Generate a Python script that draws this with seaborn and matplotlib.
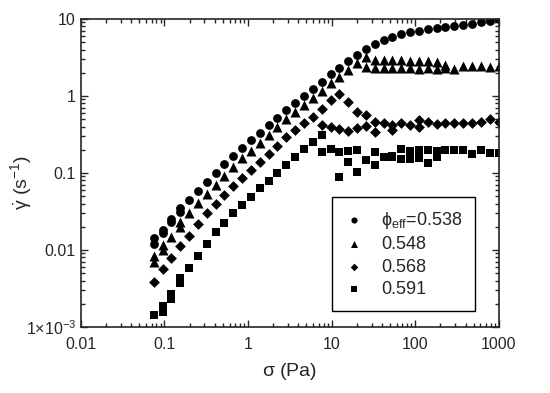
import seaborn as sns
import matplotlib.pyplot as plt
import pandas as pd

# shear stress (Pa), one sweep shared by all samples
stress = [0.074, 0.095, 0.121, 0.154, 0.196, 0.251, 0.320, 0.408, 0.521, 0.665,
          0.848, 1.08, 1.38, 1.76, 2.25, 2.86, 3.66, 4.66, 5.96, 7.59,
          9.70, 12.4, 15.8, 20.1, 25.7, 32.8, 41.9, 53.4, 68.2, 86.9,
          111, 142, 181, 230, 294, 375, 480, 611, 780, 995]

# shear rate (1/s) for each phi_eff
rate_538 = [0.0144, 0.0182, 0.0253, 0.0346, 0.0440, 0.0583, 0.0771, 0.101, 0.131, 0.166,
            0.211, 0.266, 0.331, 0.414, 0.523, 0.658, 0.818, 1.00, 1.23, 1.53,
            1.93, 2.33, 2.87, 3.44, 4.11, 4.73, 5.34, 5.89, 6.39, 6.78,
            7.05, 7.35, 7.57, 7.80, 8.11, 8.36, 8.61, 9.06, 9.42, 9.91]
rate_548 = [0.00836, 0.0116, 0.0147, 0.0231, 0.0300, 0.0411, 0.0533, 0.0698, 0.0923, 0.121,
            0.155, 0.193, 0.248, 0.312, 0.392, 0.498, 0.625, 0.764, 0.950, 1.17,
            1.46, 1.78, 2.18, 2.66, 3.18, 2.94, 2.94, 2.90, 2.90, 2.85,
            2.85, 2.80, 2.75, 2.55, 2.22, 2.45, 2.45, 2.42, 2.40, 2.45]
rate_568 = [0.00388, 0.00563, 0.00787, 0.0113, 0.0152, 0.0220, 0.0300, 0.0394, 0.0518, 0.0672,
            0.0861, 0.109, 0.139, 0.178, 0.224, 0.291, 0.362, 0.442, 0.539, 0.678,
            0.875, 1.06, 0.823, 0.62, 0.566, 0.46, 0.44, 0.42, 0.45, 0.42,
            0.488, 0.46, 0.43, 0.44, 0.45, 0.45, 0.45, 0.46, 0.50, 0.46]
rate_591 = [0.00141, 0.00187, 0.00268, 0.00433, 0.00578, 0.00836, 0.0119, 0.0169, 0.0226, 0.0300,
            0.0384, 0.0492, 0.0633, 0.0794, 0.100, 0.126, 0.159, 0.205, 0.251, 0.309,
            0.202, 0.185, 0.19, 0.199, 0.149, 0.186, 0.159, 0.165, 0.202, 0.19,
            0.20, 0.199, 0.19, 0.199, 0.197, 0.197, 0.177, 0.197, 0.184, 0.179]

# repeated measurements at some stresses
rep_538_x = [0.074, 0.095, 0.121, 0.154]
rep_538_y = [0.0119, 0.0165, 0.0233, 0.0314]
rep_548_x = [0.074, 0.095, 0.154, 25.7, 32.8, 41.9, 53.4, 68.2, 86.9, 111, 142, 181, 230]
rep_548_y = [0.00698, 0.0100, 0.0199, 2.40, 2.29, 2.29, 2.29, 2.29, 2.29, 2.25, 2.29, 2.25, 2.30]
rep_568_x = [7.59, 9.70, 12.4, 15.8, 20.1, 25.7, 32.8, 53.4, 111]
rep_568_y = [0.42, 0.40, 0.373, 0.345, 0.384, 0.41, 0.344, 0.36, 0.40]
rep_591_x = [0.095, 0.121, 0.154, 7.59, 12.4, 15.8, 20.1, 32.8, 53.4, 68.2, 86.9, 111, 142, 181]
rep_591_y = [0.00158, 0.00229, 0.00376, 0.189, 0.0895, 0.140, 0.104, 0.127, 0.161, 0.151,
             0.153, 0.155, 0.136, 0.16]

phi_labels = [r"$\mathrm{\phi}_{\mathrm{eff}}$=0.538", "0.548", "0.568", "0.591"]
markers = ["o", "^", "D", "s"]
msizes = [40, 52, 30, 34]

sns.set_style("ticks")
plt.rcParams["font.family"] = ["Liberation Sans", "DejaVu Sans"]
plt.rcParams["mathtext.fontset"] = "custom"
plt.rcParams["mathtext.rm"] = "Liberation Sans"
plt.rcParams["mathtext.it"] = "Liberation Sans:italic"

fig = plt.figure(figsize=(5.5, 3.93), dpi=100)
ax = fig.add_axes([0.147, 0.168, 0.760, 0.784])

for lab, y, rx, ry, mk, sz in zip(phi_labels,
                                  [rate_538, rate_548, rate_568, rate_591],
                                  [rep_538_x, rep_548_x, rep_568_x, rep_591_x],
                                  [rep_538_y, rep_548_y, rep_568_y, rep_591_y],
                                  markers, msizes):
    df = pd.DataFrame({"stress": stress + rx, "rate": y + ry})
    sns.scatterplot(data=df, x="stress", y="rate", marker=mk, s=sz, color="black",
                    linewidth=0, label=lab, ax=ax)

ax.set_xscale("log")
ax.set_yscale("log")
ax.set_xlim(0.01, 1000)
ax.set_ylim(1e-3, 10)
ax.set_xticks([0.01, 0.1, 1, 10, 100, 1000])
ax.set_xticklabels(["0.01", "0.1", "1", "10", "100", "1000"])
ax.set_yticks([1e-3, 0.01, 0.1, 1, 10])
ax.set_yticklabels([r"1$\times$10$^{-3}$", "0.01", "0.1", "1", "10"])
ax.tick_params(which="both", direction="in", top=True, right=True, width=1, labelsize=11.5)
ax.tick_params(axis="x", pad=7)
ax.tick_params(which="major", length=5)
ax.tick_params(which="minor", length=3)
for sp in ax.spines.values():
    sp.set_linewidth(1.2)

ax.set_xlabel(r"$\mathrm{\sigma}$ (Pa)", fontsize=14)
ax.set_ylabel(r"$\dot{\mathrm{\gamma}}$ (s$^{-1}$)", fontsize=14)
ax.xaxis.set_label_coords(0.5, -0.112)
ax.yaxis.set_label_coords(-0.113, 0.47)

leg = ax.legend(loc="lower right", bbox_to_anchor=(0.943, 0.053), fontsize=13,
                markerscale=0.7, fancybox=False, framealpha=1, edgecolor="black",
                handlelength=1.0, handletextpad=1.0, borderpad=0.7,
                labelspacing=0.3, borderaxespad=0)
leg.get_frame().set_linewidth(1)

plt.savefig("out.png", dpi=100)
plt.close()
